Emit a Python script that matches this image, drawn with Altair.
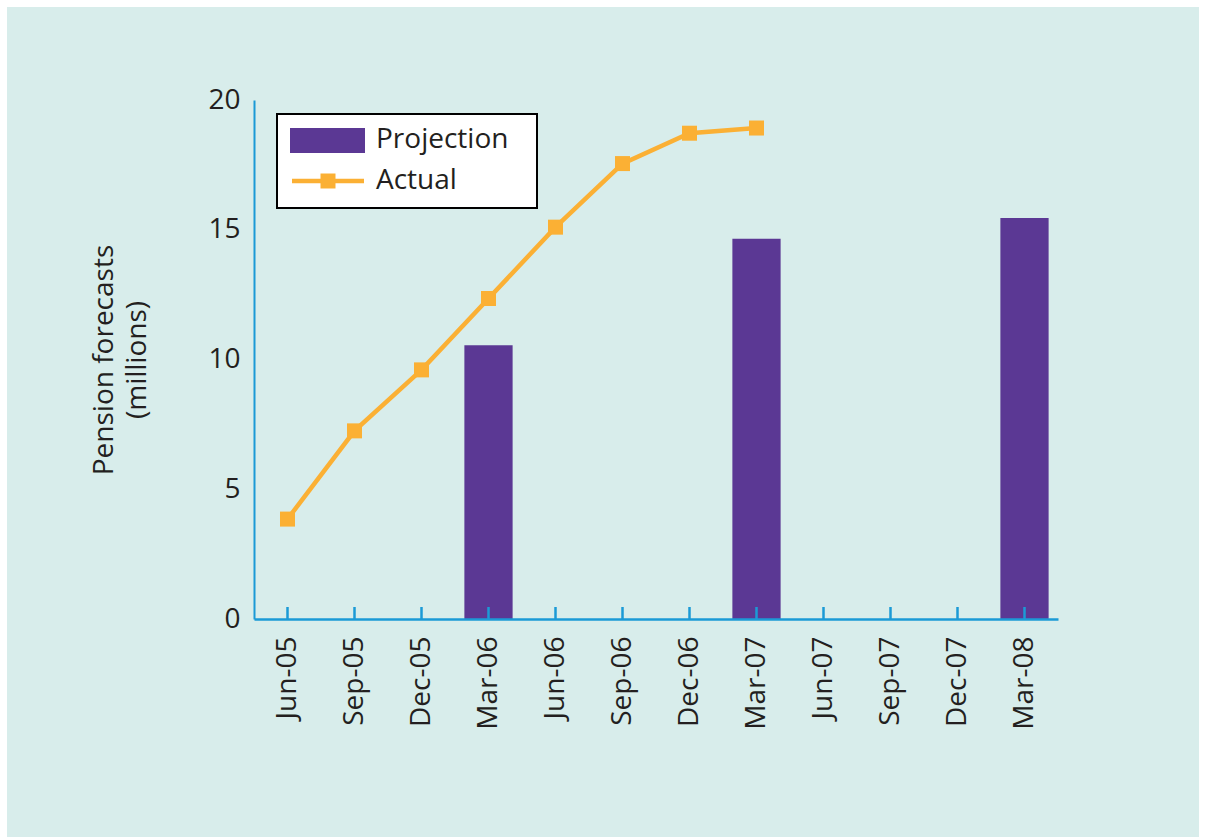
import altair as alt
import pandas as pd

# Quarterly periods on the x axis
periods = ["Jun-05", "Sep-05", "Dec-05", "Mar-06", "Jun-06", "Sep-06",
           "Dec-06", "Mar-07", "Jun-07", "Sep-07", "Dec-07", "Mar-08"]

# Projected pension forecasts (millions), only for March quarters
projection = [None, None, None, 10.55, None, None,
              None, 14.65, None, None, None, 15.45]

# Actual pension forecasts issued (millions)
actual = [3.85, 7.25, 9.6, 12.35, 15.1, 17.55,
          18.72, 18.92, None, None, None, None]

legend_labels = ["Projection", "Actual"]

PURPLE = "#5b3894"
ORANGE = "#fbb034"
AXIS_BLUE = "#1b9ad6"
PANEL = "#d8edeb"
INK = "#231f20"
FONT = "Open Sans"
FS = 28

W, H = 804, 519

df = pd.DataFrame({"period": periods, "projection": projection, "actual": actual})

x_scale = alt.Scale(domain=periods, paddingInner=0.28, paddingOuter=0.14)
y_scale = alt.Scale(domain=[0, 20], nice=False)

x_enc = alt.X(
    "period:N",
    scale=x_scale,
    sort=periods,
    axis=alt.Axis(
        title=None,
        labelAngle=-90,
        labelAlign="right",
        labelBaseline="middle",
        labelPadding=17,
        ticks=False,
        domainColor=AXIS_BLUE,
        domainWidth=2.5,
        labelFont=FONT,
        labelFontSize=FS,
        labelColor=INK,
        zindex=2,
    ),
)

y_axis = alt.Axis(
    title=["Pension forecasts", "(millions)"],
    values=[0, 5, 10, 15, 20],
    ticks=False,
    grid=False,
    domainColor=AXIS_BLUE,
    domainWidth=2,
    labelPadding=14,
    labelFont=FONT,
    labelFontSize=FS,
    labelColor=INK,
    titleFont=FONT,
    titleFontSize=FS,
    titleFontWeight="normal",
    titleColor=INK,
    titlePadding=56,
    titleLineHeight=33,
    zindex=2,
)

base = alt.Chart(df)

# Light teal panel behind everything
panel = alt.Chart(pd.DataFrame({"p": [0]})).mark_rect(color=PANEL).encode(
    x=alt.value(7 - 254), x2=alt.value(1199 - 254),
    y=alt.value(7 - 100), y2=alt.value(837 - 100),
)

bars = base.mark_bar(color=PURPLE).encode(
    x=x_enc,
    y=alt.Y("projection:Q", scale=y_scale, axis=y_axis),
).transform_filter("isValid(datum.projection)")

line = base.mark_line(color=ORANGE, strokeWidth=4.5).encode(
    x=alt.X("period:N", scale=x_scale, sort=periods),
    y=alt.Y("actual:Q", scale=y_scale),
).transform_filter("isValid(datum.actual)")

points = base.mark_point(shape="square", filled=True, opacity=1,
                         color=ORANGE, size=225).encode(
    x=alt.X("period:N", scale=x_scale, sort=periods),
    y=alt.Y("actual:Q", scale=y_scale),
).transform_filter("isValid(datum.actual)")

# Inward-pointing tick marks at each period
ticks = base.mark_rule(color=AXIS_BLUE, strokeWidth=2.5).encode(
    x=alt.X("period:N", scale=x_scale, sort=periods),
    y=alt.value(H), y2=alt.value(H - 12),
)

# Boxed legend in the upper-left of the plot
leg_df = pd.DataFrame({"label": legend_labels})
legend_box = alt.Chart(leg_df).mark_rect(
    fill="white", stroke="black", strokeWidth=2
).encode(
    x=alt.value(23), x2=alt.value(283), y=alt.value(14), y2=alt.value(108)
).transform_filter("datum.label == 'Projection'")

legend_swatch = alt.Chart(leg_df).mark_rect(color=PURPLE).encode(
    x=alt.value(36), x2=alt.value(111), y=alt.value(28), y2=alt.value(53)
).transform_filter("datum.label == 'Projection'")

legend_rule = alt.Chart(leg_df).mark_rule(color=ORANGE, strokeWidth=4.5).encode(
    x=alt.value(38), x2=alt.value(110), y=alt.value(81)
).transform_filter("datum.label == 'Actual'")

legend_marker = alt.Chart(leg_df).mark_point(
    shape="square", filled=True, opacity=1, color=ORANGE, size=225
).encode(
    x=alt.value(74), y=alt.value(81)
).transform_filter("datum.label == 'Actual'")

legend_text_proj = alt.Chart(leg_df).mark_text(
    align="left", baseline="middle", font=FONT, fontSize=FS, color=INK
).encode(
    x=alt.value(122), y=alt.value(40), text="label:N"
).transform_filter("datum.label == 'Projection'")

legend_text_act = alt.Chart(leg_df).mark_text(
    align="left", baseline="middle", font=FONT, fontSize=FS, color=INK
).encode(
    x=alt.value(122), y=alt.value(81), text="label:N"
).transform_filter("datum.label == 'Actual'")

chart = alt.layer(
    panel, bars, line, points, ticks,
    legend_box, legend_swatch, legend_rule, legend_marker,
    legend_text_proj, legend_text_act,
).properties(
    width=W,
    height=H,
    autosize=alt.AutoSizeParams(type="none"),
    padding={"left": 254, "top": 100, "right": 1206 - 254 - W, "bottom": 837 - 100 - H},
    background="white",
).configure_view(stroke=None)

chart.save("out.html", embed_options={"renderer": "svg", "actions": False})
